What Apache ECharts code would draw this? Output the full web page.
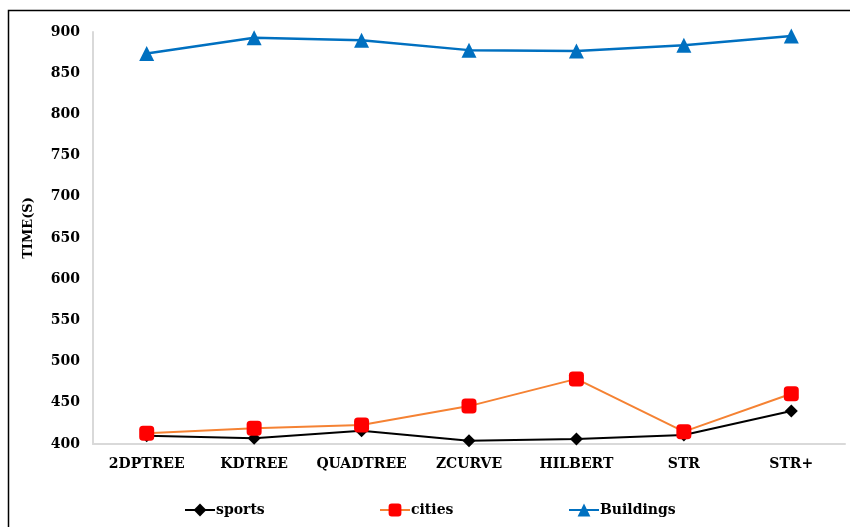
<!DOCTYPE html>
<html>
<head>
<meta charset="utf-8">
<script src="https://cdn.jsdelivr.net/npm/echarts@6/dist/echarts.min.js"></script>
<style>
  html, body { margin: 0; padding: 0; background: #fff; }
  #chart { width: 850px; height: 527px; }
</style>
</head>
<body>
<div id="chart"></div>
<script>
// Index structures compared
const categories = ['2DPTREE', 'KDTREE', 'QUADTREE', 'ZCURVE', 'HILBERT', 'STR', 'STR+'];

// Time (s) per dataset
const sports    = [410, 407, 416, 404, 406, 411, 440];
const cities    = [413, 419, 423, 446, 479, 415, 461];
const buildings = [874, 893, 890, 878, 877, 884, 895];

// Y axis range
const yMin = 400;
const yMax = 900;
const yStep = 50;

const serif = 'DejaVu Serif';

const chart = echarts.init(document.getElementById('chart'), null, { renderer: 'canvas' });

function legendAt(left, name) {
  return {
    data: [name],
    left: left,
    top: 498,
    itemWidth: 30,
    itemHeight: 16,
    textStyle: { fontFamily: serif, fontWeight: 'bold', fontSize: 14, color: '#000', padding: [0, 0, 0, -4] }
  };
}

chart.setOption({
  animation: false,
  backgroundColor: '#fff',
  graphic: [{
    type: 'rect',
    shape: { x: 8.5, y: 10.5, width: 900, height: 600 },
    style: { fill: 'none', stroke: '#000', lineWidth: 1.5 },
    silent: true
  }],
  grid: { left: 93, right: 5, top: 32, bottom: 83, containLabel: false },
  legend: [
    legendAt(179, 'sports'),
    legendAt(374, 'cities'),
    legendAt(563, 'Buildings')
  ],
  xAxis: {
    type: 'category',
    data: categories,
    boundaryGap: true,
    axisLine: { show: true, lineStyle: { color: '#d9d9d9', width: 2 } },
    axisTick: { show: false },
    axisLabel: { interval: 0, fontFamily: serif, fontWeight: 'bold', fontSize: 14, color: '#000', margin: 13 }
  },
  yAxis: {
    type: 'value',
    min: yMin,
    max: yMax,
    interval: yStep,
    name: 'TIME(S)',
    nameLocation: 'middle',
    nameRotate: 90,
    nameGap: 58,
    nameTextStyle: { fontFamily: serif, fontWeight: 'bold', fontSize: 13, color: '#000', padding: [0, 0, 0, 20] },
    axisLine: { show: true, lineStyle: { color: '#d9d9d9', width: 2 } },
    axisTick: { show: false },
    splitLine: { show: false },
    axisLabel: { fontFamily: serif, fontWeight: 'bold', fontSize: 14, color: '#000', margin: 13 }
  },
  series: [
    {
      name: 'sports',
      type: 'line',
      data: sports,
      symbol: 'diamond',
      symbolSize: 13,
      lineStyle: { color: '#000', width: 2 },
      itemStyle: { color: '#000' },
      z: 2
    },
    {
      name: 'cities',
      type: 'line',
      data: cities,
      symbol: 'roundRect',
      symbolSize: 15,
      lineStyle: { color: '#f58233', width: 2 },
      itemStyle: { color: '#ff0000' },
      z: 3
    },
    {
      name: 'Buildings',
      type: 'line',
      data: buildings,
      symbol: 'triangle',
      symbolSize: 15,
      lineStyle: { color: '#0070c0', width: 2.5 },
      itemStyle: { color: '#0070c0' },
      z: 4
    }
  ]
});
</script>
</body>
</html>
